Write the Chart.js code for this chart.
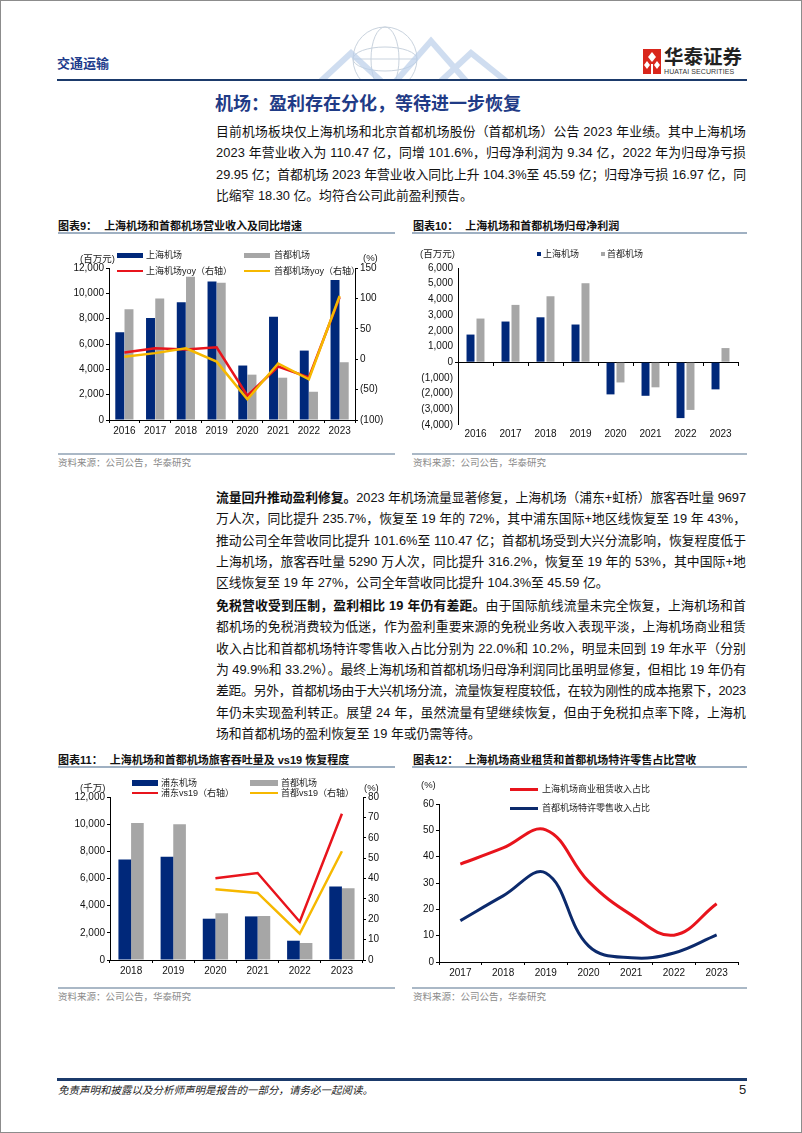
<!DOCTYPE html>
<html lang="zh-CN">
<head>
<meta charset="UTF-8">
<title>交通运输 - 机场：盈利存在分化，等待进一步恢复</title>
<script src="https://cdn.jsdelivr.net/npm/chart.js"></script>
<style>
  body { margin: 0; background: #fff; }
  .page {
    position: relative; width: 800px; height: 1131px;
    border: 1px solid #8c8c8c; overflow: hidden;
    font-family: "Liberation Sans", "Noto Sans CJK SC", sans-serif; color: #111;
  }
  .abs { position: absolute; }
  .t { position: absolute; line-height: 12px; white-space: nowrap; }
  .head { left: 56px; top: 55px; font-size: 13px; font-weight: bold; color: #1e3c8c; line-height: 16px; }
  .rule { position: absolute; }
  .title { left: 214px; top: 92px; font-size: 18px; font-weight: bold; color: #1f3b86; line-height: 22px; }
  .para { position: absolute; left: 215px; width: 530px; font-size: 12.8px; line-height: 21.35px; }
  .ln { white-space: nowrap; height: 21.35px; }
  .ctitle { font-size: 11px; font-weight: bold; line-height: 14px; }
  .ctitle span { margin-left: 7px; }
  .src { font-size: 9.5px; color: #8a8a8a; }
  .lg { font-size: 9px; color: #222; }
  .unit { font-size: 9.5px; color: #222; }
  canvas { position: absolute; }
</style>
</head>
<body>
<div class="page" id="page">

  <!-- header -->
  <svg class="abs" style="left:300px;top:22px" width="240" height="58">
    <g fill="none" stroke="#c9d3de" stroke-width="1">
      <circle cx="84" cy="36" r="32"/>
      <ellipse cx="84" cy="36" rx="14" ry="32"/>
      <ellipse cx="84" cy="36" rx="32" ry="12"/>
      <line x1="52" y1="36" x2="116" y2="36"/>
    </g>
    <g fill="none" stroke="#bcd0ea" stroke-width="6" opacity="0.7">
      <polyline points="20,58 50,30 80,58"/>
      <polyline points="95,58 130,18 165,58"/>
      <polyline points="140,58 170,30 205,58"/>
    </g>
  </svg>
  <div class="abs head">交通运输</div>
  <div class="rule" style="left:56px;top:78px;width:690px;height:2px;background:#1b3a6b"></div>

  <div class="abs" style="left:642px;top:48px;width:18px;height:25px;background:#d9261c"></div>
  <svg class="abs" style="left:642px;top:48px" width="18" height="25">
    <g fill="#fff">
      <polygon points="9,3 13,8 9,13 5,8"/>
      <polygon points="4,12 7,16 4,20 1,16"/>
      <polygon points="14,12 17,16 14,20 11,16"/>
      <rect x="8" y="15" width="2" height="10"/>
    </g>
  </svg>
  <div class="t" style="left:663px;top:45px;font-size:19.5px;font-weight:bold;line-height:22px;color:#222">华泰证券</div>
  <div class="t" style="left:663px;top:67px;font-size:7px;line-height:8px;color:#333;letter-spacing:0.1px">HUATAI SECURITIES</div>

  <div class="abs title">机场：盈利存在分化，等待进一步恢复</div>

  <div class="para" style="top:120px">
    <div class="ln">目前机场板块仅上海机场和北京首都机场股份（首都机场）公告 2023 年业绩。其中上海机场</div>
    <div class="ln">2023 年营业收入为 110.47 亿，同增 101.6%，归母净利润为 9.34 亿，2022 年为归母净亏损</div>
    <div class="ln">29.95 亿；首都机场 2023 年营业收入同比上升 104.3%至 45.59 亿；归母净亏损 16.97 亿，同</div>
    <div class="ln last">比缩窄 18.30 亿。均符合公司此前盈利预告。</div>
  </div>

  <!-- chart 9 / 10 titles -->
  <div class="t ctitle" style="left:57px;top:218px">图表9：<span>上海机场和首都机场营业收入及同比增速</span></div>
  <div class="rule" style="left:57px;top:231px;width:337px;height:1.5px;background:#9fb0c2"></div>
  <div class="t ctitle" style="left:412px;top:218px">图表10：<span>上海机场和首都机场归母净利润</span></div>
  <div class="rule" style="left:411px;top:231px;width:335px;height:1.5px;background:#9fb0c2"></div>

  <canvas id="c9" width="345" height="200" style="left:55px;top:240px"></canvas>
  <canvas id="c10" width="340" height="200" style="left:410px;top:240px"></canvas>

  <div class="rule" style="left:57px;top:452px;width:337px;height:1.5px;background:#aab8c6"></div>
  <div class="rule" style="left:411px;top:452px;width:335px;height:1.5px;background:#aab8c6"></div>
  <div class="t src" style="left:57px;top:456px">资料来源：公司公告，华泰研究</div>
  <div class="t src" style="left:412px;top:456px">资料来源：公司公告，华泰研究</div>

  <div class="para" style="top:486px">
    <div class="ln"><b>流量回升推动盈利修复。</b>2023 年机场流量显著修复，上海机场（浦东+虹桥）旅客吞吐量 9697</div>
    <div class="ln">万人次，同比提升 235.7%，恢复至 19 年的 72%，其中浦东国际+地区线恢复至 19 年 43%，</div>
    <div class="ln">推动公司全年营收同比提升 101.6%至 110.47 亿；首都机场受到大兴分流影响，恢复程度低于</div>
    <div class="ln">上海机场，旅客吞吐量 5290 万人次，同比提升 316.2%，恢复至 19 年的 53%，其中国际+地</div>
    <div class="ln last">区线恢复至 19 年 27%，公司全年营收同比提升 104.3%至 45.59 亿。</div>
  </div>

  <div class="para" style="top:594px">
    <div class="ln"><b>免税营收受到压制，盈利相比 19 年仍有差距。</b>由于国际航线流量未完全恢复，上海机场和首</div>
    <div class="ln">都机场的免税消费较为低迷，作为盈利重要来源的免税业务收入表现平淡，上海机场商业租赁</div>
    <div class="ln">收入占比和首都机场特许零售收入占比分别为 22.0%和 10.2%，明显未回到 19 年水平（分别</div>
    <div class="ln">为 49.9%和 33.2%）。最终上海机场和首都机场归母净利润同比虽明显修复，但相比 19 年仍有</div>
    <div class="ln">差距。另外，首都机场由于大兴机场分流，流量恢复程度较低，在较为刚性的成本拖累下，2023</div>
    <div class="ln">年仍未实现盈利转正。展望 24 年，虽然流量有望继续恢复，但由于免税扣点率下降，上海机</div>
    <div class="ln last">场和首都机场的盈利恢复至 19 年或仍需等待。</div>
  </div>

  <!-- chart 11 / 12 titles -->
  <div class="t ctitle" style="left:57px;top:752px">图表11：<span>上海机场和首都机场旅客吞吐量及 vs19 恢复程度</span></div>
  <div class="rule" style="left:57px;top:765px;width:337px;height:1.5px;background:#9fb0c2"></div>
  <div class="t ctitle" style="left:412px;top:752px">图表12：<span>上海机场商业租赁和首都机场特许零售占比营收</span></div>
  <div class="rule" style="left:411px;top:765px;width:335px;height:1.5px;background:#9fb0c2"></div>

  <canvas id="c11" width="345" height="205" style="left:55px;top:775px"></canvas>
  <canvas id="c12" width="340" height="205" style="left:410px;top:775px"></canvas>

  <div class="rule" style="left:57px;top:986px;width:337px;height:1.5px;background:#aab8c6"></div>
  <div class="rule" style="left:411px;top:986px;width:335px;height:1.5px;background:#aab8c6"></div>
  <div class="t src" style="left:57px;top:990px">资料来源：公司公告，华泰研究</div>
  <div class="t src" style="left:412px;top:990px">资料来源：公司公告，华泰研究</div>

  <!-- footer -->
  <div class="rule" style="left:56px;top:1077px;width:690px;height:2.5px;background:#1b3a6b"></div>
  <div class="t" style="left:57px;top:1083px;font-size:10.5px;font-style:italic;color:#222">免责声明和披露以及分析师声明是报告的一部分，请务必一起阅读。</div>
  <div class="t" style="left:738px;top:1082px;font-size:13px;line-height:14px;color:#222">5</div>
</div>

<script>
// chart 9: revenue (百万元) and yoy (%)
var years9 = ['2016', '2017', '2018', '2019', '2020', '2021', '2022', '2023'];
var names9 = ['上海机场', '首都机场', '上海机场yoy（右轴）', '首都机场yoy（右轴）'];
var shRevenue = [6930, 8050, 9300, 10940, 4300, 8150, 5480, 11050];
var bjRevenue = [8740, 9600, 11300, 10840, 3580, 3340, 2230, 4560];
var shRevYoy = [11, 18, 16, 19.5, -60, -12, -30, 102];
var bjRevYoy = [4, 10, 18, -4, -66, -7, -33, 104];

// chart 10: net profit (百万元)
var years10 = ['2016', '2017', '2018', '2019', '2020', '2021', '2022', '2023'];
var names10 = ['上海机场', '首都机场'];
var shProfit = [1760, 2590, 2860, 2400, -2050, -2140, -3560, -1730];
var bjProfit = [2780, 3650, 4200, 5030, -1290, -1600, -3040, 900];

// chart 11: passengers and recovery vs 2019
var years11 = ['2018', '2019', '2020', '2021', '2022', '2023'];
var names11 = ['浦东机场', '首都机场', '浦东vs19（右轴）', '首都vs19（右轴）'];
var pdPax = [7400, 7610, 3040, 3210, 1420, 5420];
var bjPax = [10090, 10000, 3440, 3240, 1250, 5290];
var pdVs19 = [null, null, 40.1, 42.7, 18.8, 71.8];
var bjVs19 = [null, null, 34.7, 32.9, 12.9, 53.4];

// chart 12: share of revenue (%)
var years12 = ['2017', '2018', '2019', '2020', '2021', '2022', '2023'];
var names12 = ['上海机场商业租赁收入占比', '首都机场特许零售收入占比'];
var shLeaseShare = [37.2, 43.3, 50.2, 30.6, 17.9, 10.2, 22.1];
var bjRetailShare = [15.7, 25.1, 33.8, 6.1, 1.6, 3.4, 10.3];

var NAVY = '#00287a', GRAY = '#a6a6a6', RED = '#e8141c', GOLD = '#f6b800', NAVY2 = '#0c2a6c';
var tickFont = { family: 'Liberation Sans', size: 10 };

// stretch every full body line to the 530px column (justified text)
function justifyLines() {
    document.querySelectorAll('.ln').forEach(function (el) {
        el.style.letterSpacing = '0px';
        if (el.classList.contains('last')) return;
        var r = document.createRange();
        r.selectNodeContents(el);
        var w = r.getBoundingClientRect().width;
        var n = el.textContent.length;
        el.style.letterSpacing = ((530 - w) / n) + 'px';
    });
}
justifyLines();
if (document.fonts && document.fonts.ready) document.fonts.ready.then(justifyLines);

function money(v) {
    return v < 0 ? '(' + Math.abs(v).toLocaleString('en-US') + ')' : v.toLocaleString('en-US');
}
function fixW(w) { return function (s) { s.width = w; }; }
function fixH(h) { return function (s) { s.height = h; }; }

function yAxis(pos, min, max, step, width) {
    return {
        position: pos, min: min, max: max,
        ticks: { stepSize: step, callback: money, font: tickFont, color: '#111', padding: 2 },
        grid: { drawOnChartArea: false, tickLength: 3, color: '#000' },
        border: { color: '#000' },
        afterFit: fixW(width)
    };
}
function xAxis(height) {
    return {
        offset: true,
        grid: { drawOnChartArea: false, offset: true, tickLength: 3, color: '#000' },
        border: { color: '#000' },
        ticks: { font: tickFont, color: '#111', padding: 2, maxRotation: 0, autoSkip: false },
        afterFit: fixH(height)
    };
}
var base = {
    responsive: false, animation: false, events: [],
    plugins: { legend: { display: false }, tooltip: { enabled: false } }
};

// legend / unit labels (HTML text)
var page = document.getElementById('page');
function label(text, cls, x, y) {
    var d = document.createElement('div');
    d.className = 't ' + cls;
    d.style.left = x + 'px';
    d.style.top = (y - 6) + 'px';
    d.textContent = text;
    page.appendChild(d);
}
function swatch(x, y, w, h, color) {
    var d = document.createElement('div');
    d.className = 'abs';
    d.style.cssText = 'left:' + x + 'px;top:' + (y - h / 2) + 'px;width:' + w + 'px;height:' + h + 'px;background:' + color;
    page.appendChild(d);
}

// chart 9
new Chart(document.getElementById('c9'), {
    type: 'bar',
    data: {
        labels: years9,
        datasets: [
            { type: 'line', label: names9[3], data: bjRevYoy, yAxisID: 'y1', borderColor: GOLD, borderWidth: 2.5, pointRadius: 0, order: 0 },
            { type: 'line', label: names9[2], data: shRevYoy, yAxisID: 'y1', borderColor: RED, borderWidth: 2.5, pointRadius: 0, order: 1 },
            { label: names9[0], data: shRevenue, backgroundColor: NAVY, yAxisID: 'y', order: 2, categoryPercentage: 0.6, barPercentage: 0.97 },
            { label: names9[1], data: bjRevenue, backgroundColor: GRAY, yAxisID: 'y', order: 2, categoryPercentage: 0.6, barPercentage: 0.97 }
        ]
    },
    options: Object.assign({}, base, {
        layout: { padding: { top: 27, left: 0, right: 0, bottom: 0 } },
        scales: {
            x: xAxis(21),
            y: yAxis('left', 0, 12000, 2000, 53),
            y1: yAxis('right', -100, 150, 50, 46)
        }
    })
});
swatch(116, 254, 26, 5, NAVY);  label(names9[0], 'lg', 145, 254);
swatch(243, 254, 26, 5, GRAY);  label(names9[1], 'lg', 273, 254);
swatch(116, 270, 26, 2.5, RED);  label(names9[2], 'lg', 145, 270);
swatch(243, 270, 26, 2.5, GOLD); label(names9[3], 'lg', 273, 270);
label('(百万元)', 'unit', 79, 258);
label('(%)', 'unit', 362, 257);

// chart 10: the bar axis sits on the zero value; a second axis carries the year labels
var y10 = yAxis('left', -4000, 6000, 1000, 47);
y10.grid = {
    drawOnChartArea: true, tickLength: 3, tickColor: '#000', color: '#000',
    lineWidth: function (c) { return c.tick && Math.abs(c.tick.value) < 1e-6 ? 1 : 0; }
};
new Chart(document.getElementById('c10'), {
    type: 'bar',
    data: {
        labels: years10,
        datasets: [
            { label: names10[0], data: shProfit, backgroundColor: NAVY, categoryPercentage: 0.57, barPercentage: 0.8 },
            { label: names10[1], data: bjProfit, backgroundColor: GRAY, categoryPercentage: 0.57, barPercentage: 0.8 }
        ]
    },
    options: Object.assign({}, base, {
        layout: { padding: { top: 27, left: 0, right: 13, bottom: 0 } },
        scales: {
            x: {
                position: { y: 0 }, offset: true,
                grid: { drawOnChartArea: false, offset: true, tickLength: 3, color: '#000' },
                border: { color: '#000' },
                ticks: { display: false }
            },
            xl: {
                axis: 'x', type: 'category', labels: years10, position: 'bottom', offset: true,
                grid: { display: false, drawTicks: false }, border: { display: false },
                ticks: { font: tickFont, color: '#111', padding: 3, maxRotation: 0, autoSkip: false },
                afterFit: fixH(16)
            },
            y: y10
        }
    })
});
swatch(536, 253, 4, 4, NAVY); label(names10[0], 'lg', 542, 253);
swatch(600, 253, 4, 4, GRAY); label(names10[1], 'lg', 606, 253);
label('(百万元)', 'unit', 419, 253);

// chart 11
new Chart(document.getElementById('c11'), {
    type: 'bar',
    data: {
        labels: years11,
        datasets: [
            { type: 'line', label: names11[3], data: bjVs19, yAxisID: 'y1', borderColor: GOLD, borderWidth: 2.5, pointRadius: 0, order: 1 },
            { type: 'line', label: names11[2], data: pdVs19, yAxisID: 'y1', borderColor: RED, borderWidth: 2.5, pointRadius: 0, order: 0 },
            { label: names11[0], data: pdPax, backgroundColor: NAVY, yAxisID: 'y', order: 2, categoryPercentage: 0.6, barPercentage: 1 },
            { label: names11[1], data: bjPax, backgroundColor: GRAY, yAxisID: 'y', order: 2, categoryPercentage: 0.6, barPercentage: 1 }
        ]
    },
    options: Object.assign({}, base, {
        layout: { padding: { top: 21, left: 0, right: 0, bottom: 0 } },
        scales: {
            x: xAxis(21),
            y: yAxis('left', 0, 12000, 2000, 54),
            y1: yAxis('right', 0, 80, 10, 38)
        }
    })
});
swatch(131, 782, 26, 6, NAVY);  label(names11[0], 'lg', 160, 782);
swatch(249, 782, 28, 6, GRAY);  label(names11[1], 'lg', 280, 782);
swatch(131, 792, 26, 2.5, RED);  label(names11[2], 'lg', 160, 792);
swatch(249, 792, 28, 2.5, GOLD); label(names11[3], 'lg', 280, 792);
label('(千万)', 'unit', 79, 787);
label('(%)', 'unit', 363, 787);

// chart 12
new Chart(document.getElementById('c12'), {
    type: 'line',
    data: {
        labels: years12,
        datasets: [
            { label: names12[0], data: shLeaseShare, borderColor: RED, borderWidth: 3, pointRadius: 0, tension: 0.4 },
            { label: names12[1], data: bjRetailShare, borderColor: NAVY2, borderWidth: 3, pointRadius: 0, tension: 0.4 }
        ]
    },
    options: Object.assign({}, base, {
        layout: { padding: { top: 28, left: 0, right: 13, bottom: 0 } },
        scales: {
            x: xAxis(19),
            y: yAxis('left', 0, 60, 10, 28)
        }
    })
});
swatch(509, 788, 28, 3, RED);   label(names12[0], 'lg', 541, 788);
swatch(509, 807, 28, 3, NAVY2); label(names12[1], 'lg', 541, 807);
label('(%)', 'unit', 420, 784);
</script>
</body>
</html>
